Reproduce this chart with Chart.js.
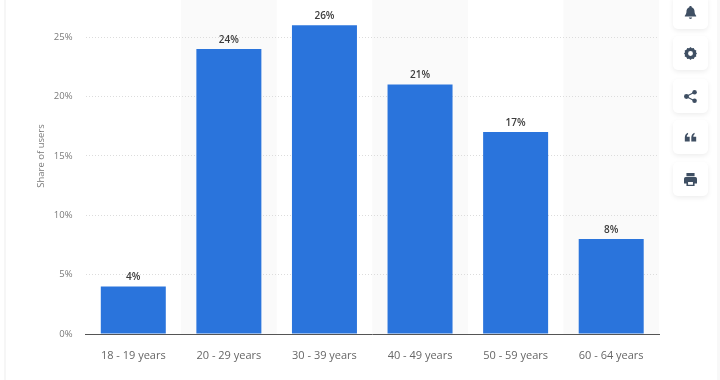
<!DOCTYPE html>
<html>
<head>
<meta charset="utf-8">
<script src="https://cdn.jsdelivr.net/npm/chart.js@4/dist/chart.umd.min.js"></script>
<style>
  html, body { margin: 0; padding: 0; background: #fff; overflow: hidden; }
  #wrap { position: relative; width: 720px; height: 380px; }
  #edgeL { position: absolute; left: 4px; top: 0; width: 2px; height: 380px; background: #f6f6f6; }
  #edgeR { position: absolute; right: 0; top: 0; width: 3px; height: 380px; background: #f8f8f8; }
  canvas { position: absolute; left: 0; top: 0; }
  .btn { position: absolute; left: 673px; width: 35px; height: 34px; background: #fff; border-radius: 5px;
         box-shadow: 0 2px 5px rgba(0,0,0,.07); display: flex; align-items: center; justify-content: center; }
  .btn svg { width: 13px; height: 13px; fill: #3f4f63; }
</style>
</head>
<body>
<div id="wrap">
  <div id="edgeL"></div>
  <div id="edgeR"></div>
  <canvas id="ageChart" width="720" height="380"></canvas>
  <div class="btn" style="top:-5px"><svg viewBox="0 0 16 16"><path d="M8 0c1 0 1.500.7 1.500 1.500C12 2.200 13 4.500 13 7c0 2.500 1 3.500 2 5v1H1v-1c1-1.500 2-2.500 2-5 0-2.500 1-4.800 3.500-5.500C6.500.7 7 0 8 0zM6 14.200h4C10 15.300 9 16 8 16s-2-.7-2-1.800z"/></svg></div>
  <div class="btn" style="top:36px"><svg viewBox="0 0 16 16"><path fill-rule="evenodd" d="M8 0l1.700 1.500 2.300-.3 1 2.100 2.100 1-.3 2.300L16 8l-1.200 1.400.3 2.300-2.100 1-1 2.100-2.300-.3L8 16l-1.700-1.500-2.300.3-1-2.100-2.100-1 .3-2.300L0 8l1.200-1.400-.3-2.300 2.100-1 1-2.100 2.300.3zM8 5a3 3 0 1 0 0 6 3 3 0 0 0 0-6z"/></svg></div>
  <div class="btn" style="top:79px"><svg viewBox="0 0 16 16"><circle cx="3" cy="8" r="3"/><circle cx="13" cy="2.800" r="2.800"/><circle cx="13" cy="13.200" r="2.800"/><path d="M3 7.200l9.500-5 .6 1.200-9.500 5zM3 8.800l9.500 5 .6-1.200-9.500-5z"/></svg></div>
  <div class="btn" style="top:120px"><svg viewBox="0 0 16 16"><path d="M1 8c0-3 1.500-5 4-6v2C4 4.500 3.500 5.500 3.500 7H7v6H1zM9 8c0-3 1.500-5 4-6v2c-1 .5-1.500 1.500-1.500 3H15v6H9z"/></svg></div>
  <div class="btn" style="top:162px"><svg viewBox="0 0 16 16"><path fill-rule="evenodd" d="M3 0h10v4H3zM2 5h12a2 2 0 0 1 2 2v6h-3v3H3v-3H0V7a2 2 0 0 1 2-2zm3 6v3.500h6V11z"/></svg></div>
</div>
<script>
const categories = ['18 - 19 years', '20 - 29 years', '30 - 39 years', '40 - 49 years', '50 - 59 years', '60 - 64 years'];
const shareOfUsers = [4, 24, 26, 21, 17, 8];
const yTicks = [0, 5, 10, 15, 20, 25];
const yAxisTitle = 'Share of users';

const fontName = '"Open Sans", "Noto Sans", sans-serif';

// every other category gets a faint grey band behind it
const bandPlugin = {
  id: 'bands',
  beforeDraw(chart) {
    const { ctx, chartArea, scales } = chart;
    const step = scales.x.getPixelForValue(1) - scales.x.getPixelForValue(0);
    ctx.save();
    ctx.fillStyle = '#fafafa';
    categories.forEach((c, i) => {
      if (i % 2 === 1) {
        ctx.fillRect(scales.x.getPixelForValue(i) - step / 2, 0, step, chartArea.bottom);
      }
    });
    ctx.restore();
  }
};

// percent labels on the bars, and the axis title (sits above the axis middle)
const textPlugin = {
  id: 'valueLabels',
  afterDatasetsDraw(chart) {
    const { ctx } = chart;
    ctx.save();
    ctx.font = '600 10px ' + fontName;
    ctx.fillStyle = '#3c3c3c';
    ctx.textAlign = 'center';
    ctx.textBaseline = 'bottom';
    chart.getDatasetMeta(0).data.forEach((bar, i) => {
      ctx.fillText(shareOfUsers[i] + '%', bar.x, bar.y - 4);
    });
    ctx.translate(41, 156);
    ctx.rotate(-Math.PI / 2);
    ctx.font = '9.5px ' + fontName;
    ctx.fillStyle = '#7a7a7a';
    ctx.textBaseline = 'middle';
    ctx.fillText(yAxisTitle, 0, 0);
    ctx.restore();
  }
};

new Chart(document.getElementById('ageChart'), {
  type: 'bar',
  data: {
    labels: categories,
    datasets: [{
      label: yAxisTitle,
      data: shareOfUsers,
      backgroundColor: '#2a74dc',
      borderColor: '#2a74dc',
      barPercentage: 0.68,
      categoryPercentage: 1
    }]
  },
  options: {
    responsive: false,
    animation: false,
    layout: { padding: { top: 1, bottom: 0, left: 0, right: 61 } },
    plugins: { legend: { display: false }, tooltip: { enabled: false } },
    scales: {
      x: {
        grid: { display: false },
        border: { color: '#555', width: 1 },
        afterFit(scale) { scale.height = 46; },
        ticks: {
          color: '#666',
          font: { family: fontName, size: 11 },
          padding: 7,
          maxRotation: 0,
          autoSkip: false
        }
      },
      y: {
        min: 0,
        max: 26.55,
        afterFit(scale) { scale.width = 85.5; },
        afterBuildTicks(scale) { scale.ticks = yTicks.map(v => ({ value: v })); },
        border: { display: false, dash: [1, 2] },
        grid: { color: '#dcdcdc', lineWidth: 1, drawTicks: false },
        ticks: {
          color: '#7a7a7a',
          font: { family: fontName, size: 9.5 },
          padding: 13,
          callback: v => v + '%'
        }
      }
    }
  },
  plugins: [bandPlugin, textPlugin]
});
</script>
</body>
</html>
